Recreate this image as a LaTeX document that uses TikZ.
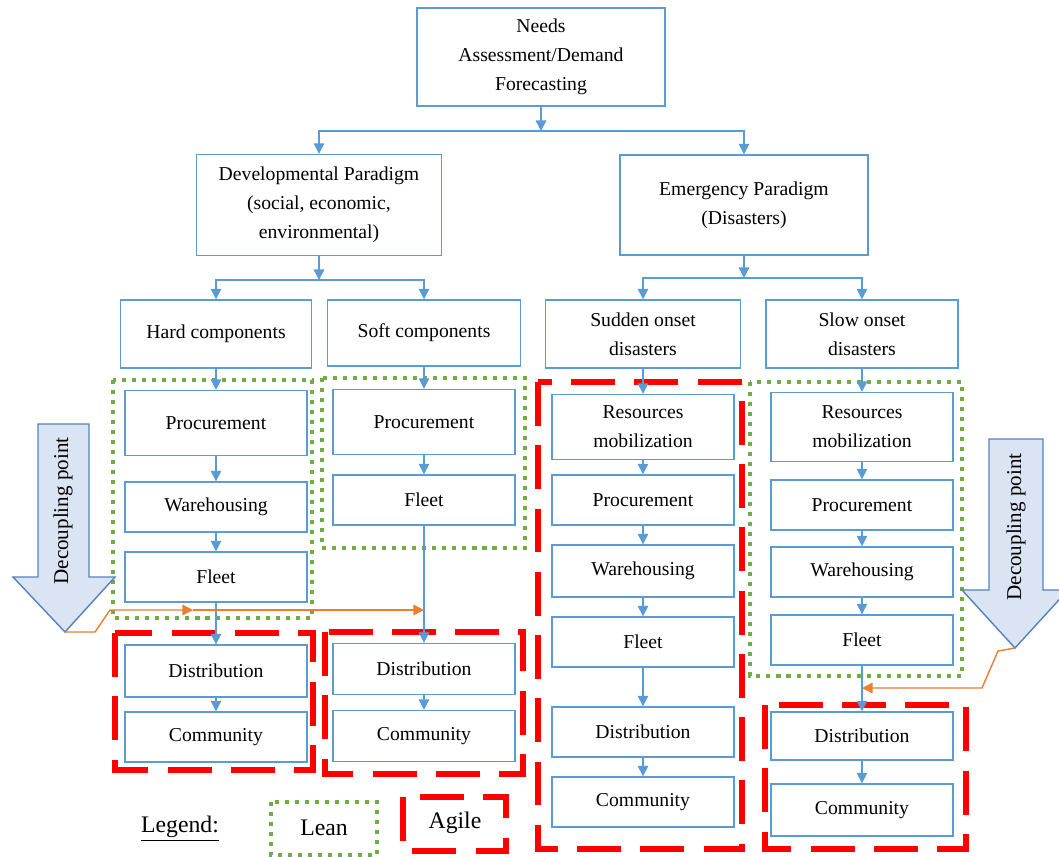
\documentclass[tikz,border=0pt]{standalone}
\usepackage{fontspec}
\setmainfont{Liberation Serif}
\usetikzlibrary{arrows.meta}
\definecolor{boxblue}{RGB}{91,155,213}
\definecolor{leangreen}{RGB}{112,173,71}
\definecolor{agilered}{RGB}{255,0,0}
\definecolor{floworange}{RGB}{237,125,49}
\definecolor{decfill}{RGB}{218,228,243}
\definecolor{decline}{RGB}{84,130,186}

\begin{document}
\begin{tikzpicture}[x=0.02cm,y=-0.02cm,
    box/.style={draw=boxblue,line width=0.8pt,fill=white,align=center,inner sep=1pt,
      minimum width=3.64cm,minimum height=1cm,font=\fontsize{11.2}{16.5}\selectfont},
    link/.style={color=boxblue,line width=0.8pt,-{Triangle[length=6pt,width=6pt]}},
    lean/.style={draw=leangreen,line width=2.3pt,dash pattern=on 2.3pt off 3.4pt},
    agile/.style={draw=agilered,line width=3.4pt,dash pattern=on 25pt off 11pt},
    decouple/.style={draw=decline,line width=0.8pt,fill=decfill},
    flow/.style={color=floworange,line width=0.8pt,-{Triangle[length=6pt,width=6pt]}},
    label/.style={font=\fontsize{13.5}{16}\selectfont}]
      \useasboundingbox (0,0) rectangle (1059,856);
      \draw[lean] (113,380) rectangle (312,618);
      \draw[lean] (322,378) rectangle (525,548);
      \draw[lean] (750,382) rectangle (962,676);
      \draw[agile] (115,633) rectangle (313,770);
      \draw[agile] (325,632) rectangle (523,774);
      \draw[agile] (538,382) rectangle (742,849);
      \draw[agile] (765,705) rectangle (966,849);
      \draw[decouple] (38,424) -- (89,424) -- (89,577) -- (115,577) -- (65,632) coordinate (dl1)
        -- (13,577) -- (38,577) -- cycle;
      \draw[decouple] (989,439) -- (1043,439) -- (1043,590) -- (1068,590) -- (1015,648) coordinate (dr1)
        -- (962,590) -- (989,590) -- cycle;
      \node[rotate=90,font=\fontsize{12}{14}\selectfont] (dectext1) at (63,511) {Decoupling point};
      \node[rotate=90,font=\fontsize{12}{14}\selectfont] (dectext2) at (1016,527) {Decoupling point};
      \node[box,minimum width=4.96cm,minimum height=1.96cm] (needs) at (541,57) {Needs\\Assessment/Demand\\Forecasting};
      \node[box,minimum width=4.9cm,minimum height=2.02cm] (dev) at (319,205) {Developmental Paradigm\\(social, economic,\\environmental)};
      \node[box,minimum width=4.96cm,minimum height=2cm] (emer) at (744,205) {Emergency Paradigm\\(Disasters)};
      \node[box,minimum width=3.82cm,minimum height=1.36cm] (hard) at (216,334) {Hard components};
      \node[box,minimum width=3.86cm,minimum height=1.32cm] (soft) at (424,333) {Soft components};
      \node[box,minimum width=3.9cm,minimum height=1.36cm] (sudden) at (643,334) {Sudden onset\\disasters};
      \node[box,minimum width=3.84cm,minimum height=1.36cm] (slow) at (862,334) {Slow onset\\disasters};
      \node[box,minimum height=1.3cm] (hproc) at (216,423) {Procurement};
      \node[box] (hware) at (216,507) {Warehousing};
      \node[box] (hfleet) at (216,577) {Fleet};
      \node[box,minimum height=1.04cm] (hdist) at (216,671) {Distribution};
      \node[box] (hcomm) at (216,737) {Community};
      \node[box,minimum height=1.3cm] (sproc) at (424,422) {Procurement};
      \node[box] (sfleet) at (424,500) {Fleet};
      \node[box,minimum height=1.02cm] (sdist) at (424,669) {Distribution};
      \node[box,minimum height=1.02cm] (scomm) at (424,736) {Community};
      \node[box,minimum height=1.3cm] (ures) at (643,427) {Resources\\mobilization};
      \node[box] (uproc) at (643,500) {Procurement};
      \node[box,minimum height=1.04cm] (uware) at (643,571) {Warehousing};
      \node[box] (ufleet) at (643,642) {Fleet};
      \node[box] (udist) at (643,732) {Distribution};
      \node[box] (ucomm) at (643,802) {Community};
      \node[box,minimum height=1.38cm] (wres) at (862,427) {Resources\\mobilization};
      \node[box] (wproc) at (862,505) {Procurement};
      \node[box] (wware) at (862,572) {Warehousing};
      \node[box] (wfleet) at (862,640) {Fleet};
      \node[box,minimum height=0.96cm] (wdist) at (862,736) {Distribution};
      \node[box,minimum height=1.04cm] (wcomm) at (862,810) {Community};
      \coordinate (split1) at (541,131);
      \coordinate (split2) at (319,280);
      \coordinate (split3) at (744,278);
      \path[link] (needs) edge (split1) (dev) edge (split2) (emer) edge (split3);
      \draw[link] (split1) -| (dev);
      \draw[link] (split1) -| (emer);
      \draw[link] (split2) -| (hard);
      \draw[link] (split2) -| (soft);
      \draw[link] (split3) -| (sudden);
      \draw[link] (split3) -| (slow);
      \foreach \a/\b in {hard/hproc,hproc/hware,hware/hfleet,hfleet/hdist,hdist/hcomm,
          soft/sproc,sproc/sfleet,sfleet/sdist,sdist/scomm,
          sudden/ures,ures/uproc,uproc/uware,uware/ufleet,ufleet/udist,udist/ucomm,
          slow/wres,wres/wproc,wproc/wware,wware/wfleet,wfleet/wdist,wdist/wcomm} {
        \path[link] (\a) edge (\b);
      }
      \coordinate (dl2) at (95,632);
      \coordinate (dl3) at (110,610);
      \coordinate (dl4) at (193,610);
      \coordinate (dl5) at (424,610);
      \draw[flow] (dl1) -- (dl2) -- (dl3) -- (dl4);
      \draw[flow] (dl4) -- (dl5);
      \coordinate (dr2) at (998,651);
      \coordinate (dr3) at (982,688);
      \coordinate (dr4) at (862,688);
      \draw[flow] (dr1) -- (dr2) -- (dr3) -- (dr4);
      \draw[lean] (271,802) rectangle (377,855);
      \draw[agile] (403,797) rectangle (506,851);
      \node[label] (legend) at (180,829) {\underline{Legend:}};
      \node[label] (leantext) at (324,828) {Lean};
      \node[label] (agiletext) at (455,823) {Agile};
    \end{tikzpicture}
\end{document}
